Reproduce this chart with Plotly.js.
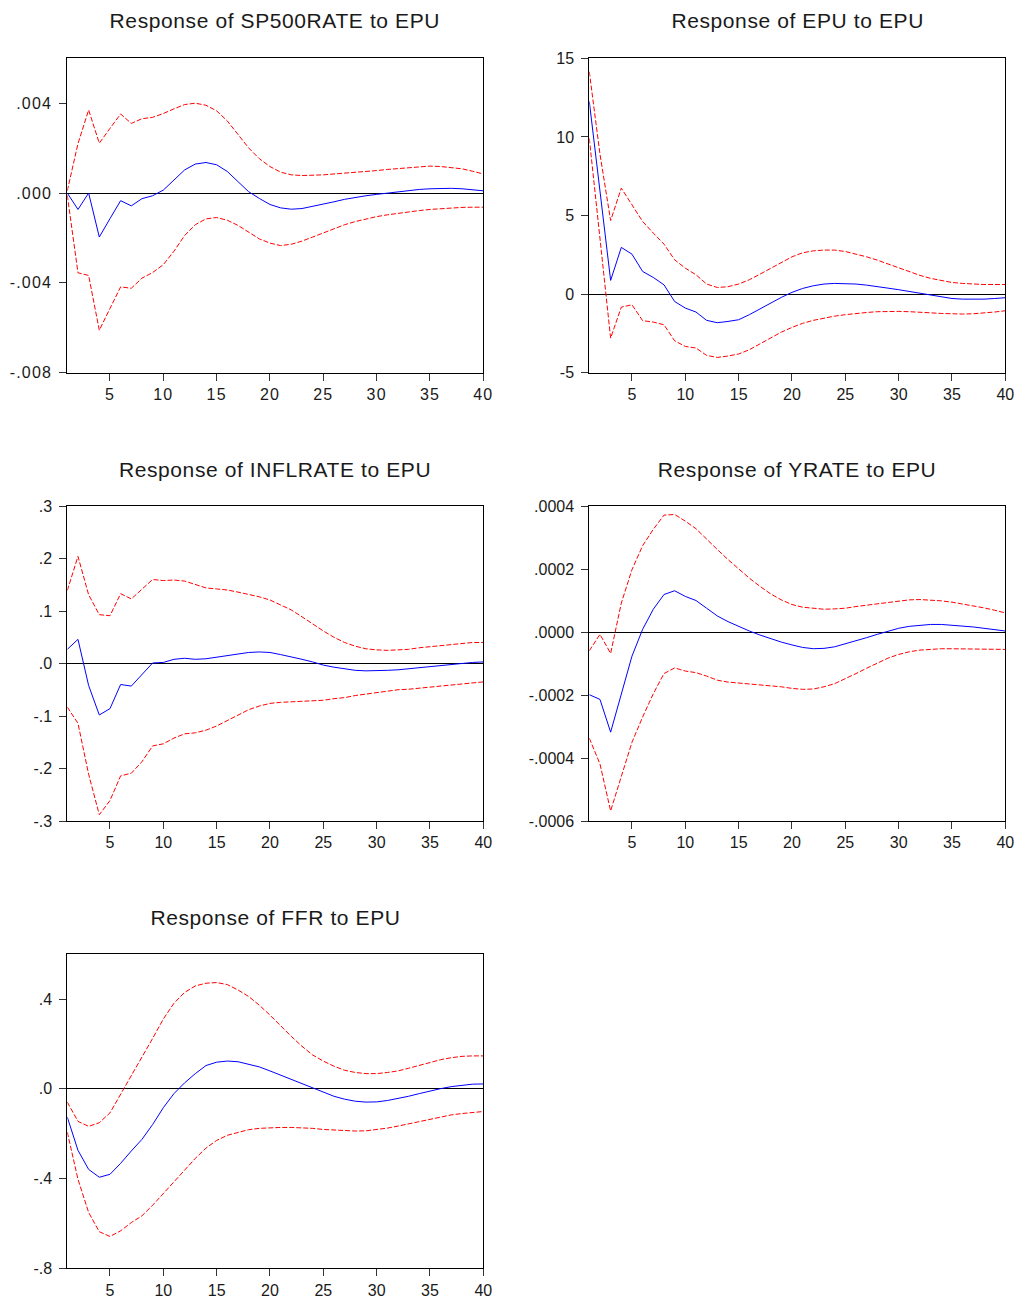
<!DOCTYPE html>
<html>
<head>
<meta charset="utf-8">
<script src="https://cdn.plot.ly/plotly-3.0.1.min.js"></script>
<style>
html,body{margin:0;padding:0;background:#fff;}
#chart{width:1024px;height:1299px;}
#chart .xtick text, #chart .ytick text{letter-spacing:1.2px;}
#chart .annotation-text{letter-spacing:0.6px;}
</style>
</head>
<body>
<div id="chart"></div>
<script>
// ---------- DATA ----------
const periods = Array.from({length: 40}, (_, i) => i + 1);
const xTickVals = [5, 10, 15, 20, 25, 30, 35, 40];
const xTickText = ['5', '10', '15', '20', '25', '30', '35', '40'];

const titles = [
  'Response of SP500RATE to EPU',
  'Response of EPU to EPU',
  'Response of INFLRATE to EPU',
  'Response of YRATE to EPU',
  'Response of FFR to EPU'
];

// Panel 1: SP500RATE
const sp500Resp = [0, -0.00073, 0, -0.00196, -0.00114, -0.00034, -0.00057, -0.00025, -0.00012, 0.00013,
  0.00058, 0.00103, 0.00129, 0.00136, 0.00126, 0.00096, 0.00051, 0.00006, -0.00024, -0.00051,
  -0.00066, -0.00072, -0.00069, -0.0006, -0.00049, -0.00039, -0.00028, -0.00019, -0.00012, -0.00006,
  0, 0.00006, 0.00012, 0.00016, 0.00019, 0.00021, 0.00021, 0.00019, 0.00015, 0.0001];
const sp500Upper = [0.0001, 0.0022, 0.0037, 0.00222, 0.00288, 0.00352, 0.0031, 0.00331, 0.00337, 0.00354,
  0.00375, 0.00394, 0.004, 0.00391, 0.00366, 0.00321, 0.00261, 0.00201, 0.00153, 0.00118,
  0.00093, 0.00081, 0.00078, 0.00078, 0.00081, 0.00085, 0.00088, 0.00091, 0.00096, 0.001,
  0.00105, 0.00109, 0.00114, 0.00118, 0.0012, 0.00118, 0.00114, 0.00108, 0.00097, 0.00085];
const sp500Lower = [-0.0001, -0.00355, -0.00367, -0.00611, -0.00514, -0.00418, -0.00424, -0.00379, -0.00354, -0.00319,
  -0.00259, -0.00189, -0.00141, -0.00115, -0.00109, -0.00121, -0.00144, -0.00174, -0.00204, -0.00223,
  -0.00234, -0.00228, -0.00214, -0.00196, -0.00177, -0.00159, -0.00141, -0.00127, -0.00115, -0.00105,
  -0.00097, -0.0009, -0.00084, -0.00078, -0.00073, -0.00069, -0.00066, -0.00064, -0.00063, -0.00063];

// Panel 2: EPU
const epuResp = [12.25, 6.5, 0.87, 2.97, 2.54, 1.44, 1.06, 0.59, -0.47, -0.89,
  -1.14, -1.67, -1.82, -1.74, -1.63, -1.31, -0.93, -0.57, -0.21, 0.11,
  0.36, 0.53, 0.64, 0.68, 0.68, 0.64, 0.57, 0.49, 0.38, 0.28,
  0.17, 0.04, -0.08, -0.19, -0.28, -0.32, -0.34, -0.32, -0.28, -0.23];
const epuUpper = [14.15, 8.9, 4.68, 6.74, 5.68, 4.62, 3.88, 3.18, 2.18, 1.65,
  1.23, 0.64, 0.42, 0.47, 0.64, 0.91, 1.27, 1.65, 2.03, 2.37,
  2.63, 2.75, 2.8, 2.8, 2.71, 2.56, 2.37, 2.16, 1.91, 1.65,
  1.4, 1.19, 1.0, 0.85, 0.74, 0.68, 0.64, 0.61, 0.61, 0.61];
const epuLower = [9.9, 3.67, -2.8, -0.83, -0.68, -1.69, -1.78, -1.95, -2.97, -3.33,
  -3.43, -3.9, -4.03, -3.94, -3.81, -3.54, -3.18, -2.8, -2.42, -2.12,
  -1.86, -1.67, -1.53, -1.4, -1.31, -1.23, -1.17, -1.12, -1.1, -1.1,
  -1.12, -1.14, -1.19, -1.23, -1.27, -1.27, -1.25, -1.21, -1.14, -1.06];

// Panel 3: INFLRATE
const inflResp = [0.027, 0.046, -0.042, -0.098, -0.086, -0.04, -0.043, -0.022, 0.001, 0.002,
  0.008, 0.01, 0.008, 0.009, 0.012, 0.015, 0.018, 0.021, 0.022, 0.021,
  0.017, 0.013, 0.008, 0.003, -0.003, -0.007, -0.01, -0.013, -0.014, -0.014,
  -0.013, -0.012, -0.01, -0.008, -0.005, -0.003, -0.001, 0.001, 0.002, 0.003];
const inflUpper = [0.139, 0.204, 0.131, 0.093, 0.091, 0.133, 0.123, 0.141, 0.16, 0.158,
  0.159, 0.157, 0.15, 0.144, 0.142, 0.14, 0.136, 0.132, 0.127, 0.121,
  0.112, 0.102, 0.089, 0.075, 0.062, 0.05, 0.04, 0.033, 0.028, 0.026,
  0.025, 0.026, 0.027, 0.03, 0.032, 0.035, 0.037, 0.039, 0.04, 0.04];
const inflLower = [-0.083, -0.114, -0.211, -0.288, -0.261, -0.214, -0.209, -0.187, -0.157, -0.153,
  -0.142, -0.134, -0.132, -0.127, -0.119, -0.109, -0.098, -0.088, -0.081, -0.076,
  -0.074, -0.073, -0.073, -0.072, -0.07, -0.067, -0.065, -0.061, -0.058, -0.055,
  -0.052, -0.05, -0.049, -0.047, -0.045, -0.042, -0.04, -0.038, -0.036, -0.035];

// Panel 4: YRATE
const yrateResp = [-0.000199, -0.000214, -0.000318, -0.000196, -0.0000766, 0.0000085, 0.0000723, 0.000119, 0.000131, 0.000113,
  0.0001, 0.0000755, 0.000051, 0.000033, 0.000017, 0.0000032, -0.0000096, -0.000021, -0.000032, -0.000041,
  -0.000049, -0.000053, -0.000052, -0.000047, -0.000038, -0.000029, -0.000018, -0.0000074, 0.0000032, 0.0000117,
  0.000018, 0.000022, 0.000024, 0.000024, 0.000022, 0.000019, 0.000016, 0.0000117, 0.0000074, 0.0000032];
const yrateUpper = [-0.0000596, -0.0000074, -0.000068, 0.0000915, 0.000198, 0.000274, 0.000326, 0.000371, 0.000373, 0.000352,
  0.000328, 0.000294, 0.000262, 0.00023, 0.0002, 0.000171, 0.000145, 0.000121, 0.000102, 0.0000872,
  0.0000787, 0.0000745, 0.0000723, 0.0000734, 0.0000755, 0.0000809, 0.0000851, 0.0000904, 0.0000957, 0.0001,
  0.000102, 0.000103, 0.000102, 0.0000989, 0.0000947, 0.0000894, 0.000083, 0.0000766, 0.0000691, 0.0000606];
const yrateLower = [-0.000337, -0.000419, -0.000568, -0.000462, -0.00035, -0.00027, -0.000196, -0.000132, -0.000114, -0.000124,
  -0.000129, -0.00014, -0.000153, -0.000159, -0.000162, -0.000165, -0.000167, -0.00017, -0.000174, -0.000179,
  -0.000182, -0.000181, -0.000174, -0.000164, -0.000149, -0.000132, -0.000115, -0.0000979, -0.000083, -0.0000713,
  -0.0000628, -0.0000574, -0.0000543, -0.0000532, -0.0000532, -0.0000532, -0.0000532, -0.0000532, -0.0000543, -0.0000553];

// Panel 5: FFR
const ffrResp = [-0.126, -0.274, -0.359, -0.394, -0.381, -0.332, -0.277, -0.225, -0.159, -0.084,
  -0.021, 0.027, 0.068, 0.104, 0.119, 0.124, 0.121, 0.111, 0.098, 0.08,
  0.061, 0.041, 0.022, 0.003, -0.015, -0.033, -0.046, -0.055, -0.059, -0.058,
  -0.052, -0.043, -0.033, -0.021, -0.009, 0.001, 0.01, 0.016, 0.021, 0.022];
const ffrUpper = [-0.059, -0.145, -0.167, -0.151, -0.107, -0.025, 0.061, 0.142, 0.225, 0.311,
  0.382, 0.43, 0.459, 0.471, 0.474, 0.465, 0.441, 0.412, 0.373, 0.329,
  0.281, 0.234, 0.19, 0.151, 0.124, 0.101, 0.083, 0.073, 0.068, 0.068,
  0.073, 0.08, 0.092, 0.105, 0.119, 0.13, 0.139, 0.145, 0.147, 0.147];
const ffrLower = [-0.193, -0.403, -0.551, -0.637, -0.658, -0.633, -0.596, -0.566, -0.519, -0.467,
  -0.415, -0.361, -0.31, -0.264, -0.23, -0.207, -0.193, -0.182, -0.176, -0.173,
  -0.172, -0.172, -0.173, -0.176, -0.181, -0.184, -0.187, -0.188, -0.187, -0.182,
  -0.175, -0.166, -0.156, -0.145, -0.135, -0.124, -0.116, -0.11, -0.105, -0.101];

// Y axis ticks
const yTickVals = [
  [0.004, 0, -0.004, -0.008],
  [15, 10, 5, 0, -5],
  [0.3, 0.2, 0.1, 0, -0.1, -0.2, -0.3],
  [0.0004, 0.0002, 0, -0.0002, -0.0004, -0.0006],
  [0.4, 0, -0.4, -0.8]
];
const yTickText = [
  ['.004', '.000', '-.004', '-.008'],
  ['15', '10', '5', '0', '-5'],
  ['.3', '.2', '.1', '.0', '-.1', '-.2', '-.3'],
  ['.0004', '.0002', '.0000', '-.0002', '-.0004', '-.0006'],
  ['.4', '.0', '-.4', '-.8']
];
const yRanges = [
  [-0.008, 0.006],
  [-5, 15],
  [-0.3, 0.3],
  [-0.0006, 0.0004],
  [-0.8, 0.6]
];

const responses = [sp500Resp, epuResp, inflResp, yrateResp, ffrResp];
const uppers = [sp500Upper, epuUpper, inflUpper, yrateUpper, ffrUpper];
const lowers = [sp500Lower, epuLower, inflLower, yrateLower, ffrLower];

// ---------- LAYOUT ----------
const W = 1024, H = 1299;
const colX = [[67.3, 483.3], [589.3, 1005.3]];
const rowY = [[58.3, 372.7], [506, 821], [954.3, 1268.3]];
const titleY = [20, 469, 917];
const panelPos = [[0, 0], [1, 0], [0, 1], [1, 1], [0, 2]];

const FONT = '"Liberation Sans", Arial, Helvetica, sans-serif';
const traces = [];
const layout = {
  width: W, height: H,
  margin: {l: 0, r: 0, t: 0, b: 0},
  paper_bgcolor: '#ffffff',
  plot_bgcolor: '#ffffff',
  showlegend: false,
  font: {family: FONT, color: '#1a1a1a', size: 16},
  annotations: []
};

for (let i = 0; i < 5; i++) {
  const suffix = i === 0 ? '' : String(i + 1);
  const xa = 'x' + suffix, ya = 'y' + suffix;
  const [c, r] = panelPos[i];
  const xd = [colX[c][0] / W, colX[c][1] / W];
  const yd = [1 - rowY[r][1] / H, 1 - rowY[r][0] / H];

  layout['xaxis' + suffix] = {
    domain: xd, anchor: ya, range: [1, 40],
    tickmode: 'array', tickvals: xTickVals, ticktext: xTickText,
    ticks: 'outside', ticklen: 7, tickwidth: 1, tickcolor: '#333',
    showline: true, linecolor: '#000', linewidth: 1, mirror: true,
    showgrid: false, zeroline: false,
    tickfont: {family: FONT, size: 16, color: '#1a1a1a'}
  };
  layout['yaxis' + suffix] = {
    domain: yd, anchor: xa, range: yRanges[i],
    tickmode: 'array', tickvals: yTickVals[i], ticktext: yTickText[i],
    ticks: 'outside', ticklen: 7, tickwidth: 1, tickcolor: '#333',
    ticklabelstandoff: 4,
    showline: true, linecolor: '#000', linewidth: 1, mirror: true,
    showgrid: false, zeroline: true, zerolinecolor: '#000', zerolinewidth: 1,
    tickfont: {family: FONT, size: 16, color: '#1a1a1a'}
  };

  traces.push({
    x: periods, y: uppers[i], xaxis: xa, yaxis: ya, type: 'scatter', mode: 'lines',
    line: {color: '#ff0000', width: 1, dash: '5px,2px'}, hoverinfo: 'skip'
  });
  traces.push({
    x: periods, y: lowers[i], xaxis: xa, yaxis: ya, type: 'scatter', mode: 'lines',
    line: {color: '#ff0000', width: 1, dash: '5px,2px'}, hoverinfo: 'skip'
  });
  traces.push({
    x: periods, y: responses[i], xaxis: xa, yaxis: ya, type: 'scatter', mode: 'lines',
    line: {color: '#0000ff', width: 1}, hoverinfo: 'skip'
  });

  layout.annotations.push({
    text: titles[i], xref: 'paper', yref: 'paper',
    x: (xd[0] + xd[1]) / 2, y: 1 - titleY[r] / H,
    xanchor: 'center', yanchor: 'middle', showarrow: false,
    font: {family: FONT, size: 21, color: '#1a1a1a'}
  });
}

Plotly.newPlot('chart', traces, layout, {staticPlot: true, displayModeBar: false});
</script>
</body>
</html>
